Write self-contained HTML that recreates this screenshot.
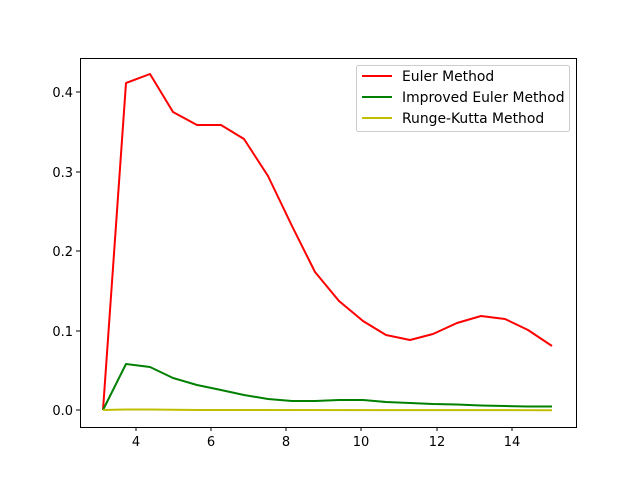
<!DOCTYPE html>
<html><head><style>body{margin:0;background:#fff}svg{display:block}text{font-family:"DejaVu Sans","Liberation Sans",sans-serif;font-size:13px;fill:#000}.lg{font-size:13.9px}</style></head>
<body>
<svg width="640" height="480" viewBox="0 0 640 480">
<rect width="640" height="480" fill="#fff"/>
<g fill="none" stroke-width="2" stroke-linejoin="round">
<polyline stroke="#ff0000" points="103,410 126,83 150,74 173,112 197,125 221,125 244,139 268,176 292,226 315,272 339,301 363,321 386,335 410,340 433,334 457,323 481,316 505,319 528,330 552,346"/>
<polyline stroke="#008000" points="103,410 126,364 150,367 173,378 197,385 221,390 244,395 268,399 292,401 315,401 339,400 363,400 386,402 410,403 433,404 457,404.5 481,405.5 505,406 528,406.5 552,406.5"/>
<polyline stroke="#bfbf00" points="103,410 126,409.5 150,409.5 173,409.8 197,410 552,410.2"/>
</g>
<rect x="80.5" y="58.5" width="496" height="369" fill="none" stroke="#000" stroke-width="1"/>
<g stroke="#000" stroke-width="1">
<line x1="136" y1="427" x2="136" y2="431"/><line x1="211" y1="427" x2="211" y2="431"/><line x1="286" y1="427" x2="286" y2="431"/><line x1="361" y1="427" x2="361" y2="431"/><line x1="437" y1="427" x2="437" y2="431"/><line x1="512" y1="427" x2="512" y2="431"/>
<line x1="76" y1="410" x2="80" y2="410"/><line x1="76" y1="331" x2="80" y2="331"/><line x1="76" y1="251" x2="80" y2="251"/><line x1="76" y1="172" x2="80" y2="172"/><line x1="76" y1="92" x2="80" y2="92"/>
</g>
<g text-anchor="middle">
<text x="136" y="446">4</text><text x="211" y="446">6</text><text x="286" y="446">8</text><text x="361" y="446">10</text><text x="437" y="446">12</text><text x="512" y="446">14</text>
</g>
<g text-anchor="end">
<text x="73" y="415">0.0</text><text x="73" y="336">0.1</text><text x="73" y="256">0.2</text><text x="73" y="177">0.3</text><text x="73" y="97">0.4</text>
</g>
<rect x="356.5" y="65.5" width="213" height="66" rx="2" fill="#fff" fill-opacity="0.8" stroke="#ccc"/>
<line x1="362" y1="76" x2="392" y2="76" stroke="#ff0000" stroke-width="2"/>
<line x1="362" y1="97" x2="392" y2="97" stroke="#008000" stroke-width="2"/>
<line x1="362" y1="118" x2="392" y2="118" stroke="#bfbf00" stroke-width="2"/>
<text class="lg" x="402" y="81">Euler Method</text>
<text class="lg" x="402" y="102">Improved Euler Method</text>
<text class="lg" x="402" y="123">Runge-Kutta Method</text>
</svg>
</body></html>
